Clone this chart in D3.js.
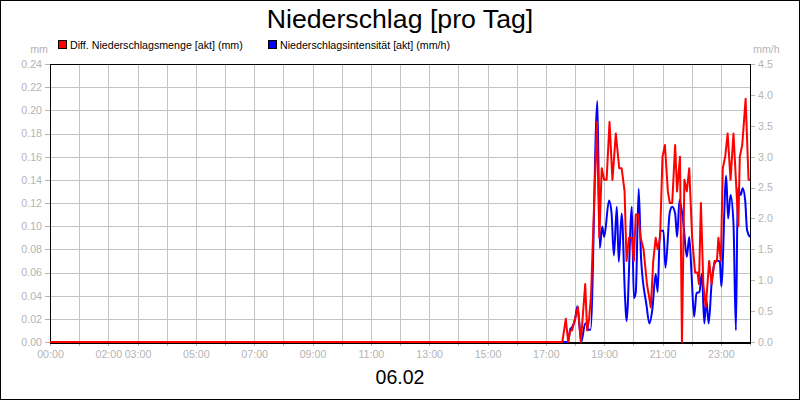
<!DOCTYPE html>
<html><head><meta charset="utf-8">
<script src="https://cdn.jsdelivr.net/npm/d3@7"></script>
<style>
html,body{margin:0;padding:0;background:#fff;}
svg text{font-family:"Liberation Sans",Arial,sans-serif;}
</style></head>
<body>
<svg id="chart" width="800" height="400"></svg>
<script>
const title = "Niederschlag [pro Tag]";
const dateLabel = "06.02";
const seriesNames = ["Diff. Niederschlagsmenge [akt] (mm)", "Niederschlagsintensität [akt] (mm/h)"];
const seriesColors = ["#ff0000", "#0000ff"];
const leftUnit = "mm", rightUnit = "mm/h";
const leftTicks = [0,0.02,0.04,0.06,0.08,0.10,0.12,0.14,0.16,0.18,0.20,0.22,0.24];
const rightTicks = [0,0.5,1,1.5,2,2.5,3,3.5,4,4.5];
const hourTicks = d3.range(0,25);
const hourLabels = ["00:00","02:00","03:00","05:00","07:00","09:00","11:00","13:00","15:00","17:00","19:00","21:00","23:00"];

const redTimes = ["00:00","17:34","17:41","17:46","17:50","17:54","18:00","18:06","18:12","18:21","18:25","18:29","18:33","18:45","18:50","18:55","19:00","19:05","19:11","19:17","19:24","19:31","19:36","19:42","19:46","19:51","19:57","20:01","20:05","20:10","20:15","20:21","20:28","20:36","20:41","20:46","20:50","20:55","21:00","21:05","21:11","21:15","21:20","21:26","21:30","21:36","21:40","21:45","21:50","21:55","22:01","22:07","22:12","22:15","22:19","22:24","22:29","22:36","22:41","22:47","22:52","22:55","23:00","23:04","23:09","23:14","23:20","23:26","23:36","23:39","23:44","23:51","23:57","24:00"];
const redValues = [0,0,0.02,0,0.01,0.01,0.02,0.03,0,0.05,0.01,0.02,0.04,0.19,0.09,0.15,0.14,0.14,0.19,0.14,0.18,0.15,0.15,0.13,0.07,0.09,0.09,0.07,0.11,0.11,0.09,0.08,0.05,0.03,0.07,0.09,0.08,0.09,0.16,0.17,0.13,0.12,0.12,0.17,0.13,0.16,0,0.14,0.13,0.15,0.09,0.06,0.06,0.05,0.12,0.05,0.03,0.07,0.05,0.07,0.07,0.09,0.07,0.15,0.16,0.18,0.14,0.18,0.10,0.16,0.17,0.21,0.14,0.14];

const blueTimes = ["00:00","17:46","17:50","17:54","18:00","18:05","18:13","18:21","18:25","18:27","18:32","18:46","18:51","18:56","19:00","19:10","19:15","19:20","19:26","19:30","19:36","19:43","19:46","19:57","20:01","20:05","20:11","20:16","20:27","20:33","20:39","20:46","20:50","20:55","21:02","21:06","21:15","21:20","21:26","21:30","21:35","21:43","21:50","21:55","22:00","22:05","22:10","22:16","22:21","22:26","22:30","22:35","22:41","22:47","22:53","22:58","23:01","23:11","23:15","23:20","23:26","23:31","23:35","23:41","23:45","23:50","23:54","24:00"];
const blueValues = [0,0,0.2,0.24,0.36,0.58,0,0.3,0.3,0.2,0.2,3.9,1.52,1.87,1.7,2.29,2.1,1.4,2.19,1.3,2.08,0.71,0.34,2.19,0.71,0.8,2.48,1.34,0.6,0.3,0.52,1.1,0.81,1.8,1.8,1.2,2.1,2.19,2.08,1.7,2.3,1.92,1.38,1.7,1.06,0.41,0.79,0.81,1.11,0.3,0.7,0.3,0.95,1.27,1.32,1.3,0.9,2.69,2.0,2.38,1.92,0.19,2.49,2.38,2.49,2.3,1.81,1.7];

const toH = s => { const [h,m] = s.split(":").map(Number); return h + m/60; };
const red = redTimes.map((t,i)=>({h:toH(t), v:redValues[i]}));
const blue = blueTimes.map((t,i)=>({h:toH(t), v:blueValues[i]}));

const svg = d3.select("#chart");
const W = 800, H = 400;
const m = {left:50, right:750, top:64, bottom:342};
const grey = "#b4b4b4", gridC = "#c4c4c4";
const smallFont = "10.67px";

svg.append("rect").attr("x",0.5).attr("y",0.5).attr("width",W-1).attr("height",H-1)
  .attr("fill","#fff").attr("stroke","#000");

const x = d3.scaleLinear().domain([0,24]).range([m.left,m.right]);
const yL = d3.scaleLinear().domain([0,0.24]).range([m.bottom,m.top]);
const yR = d3.scaleLinear().domain([0,4.5]).range([m.bottom,m.top]);

// grid
const grid = svg.append("g").attr("stroke",gridC).attr("stroke-width",1).attr("shape-rendering","crispEdges");
grid.selectAll("line.v").data(hourTicks.slice(1,-1)).join("line")
  .attr("x1",d=>Math.round(x(d))+0.5).attr("x2",d=>Math.round(x(d))+0.5)
  .attr("y1",m.top).attr("y2",m.bottom);
grid.selectAll("line.h").data(leftTicks.slice(1,-1)).join("line")
  .attr("y1",d=>Math.round(yL(d))+0.5).attr("y2",d=>Math.round(yL(d))+0.5)
  .attr("x1",m.left).attr("x2",m.right);

// axes
function styleAxis(g){
  g.select(".domain").remove();
  g.selectAll(".tick line").attr("stroke",grey).attr("shape-rendering","crispEdges");
  g.selectAll(".tick text").attr("fill",grey).attr("font-size",smallFont).attr("font-family","'Liberation Sans',Arial,sans-serif");
}
svg.append("g").attr("transform",`translate(${m.left},0)`)
  .call(d3.axisLeft(yL).tickValues(leftTicks).tickFormat(d3.format(".2f")).tickSize(5).tickPadding(3))
  .call(styleAxis);
svg.append("g").attr("transform",`translate(${m.right},0)`)
  .call(d3.axisRight(yR).tickValues(rightTicks).tickFormat(d3.format(".1f")).tickSize(5).tickPadding(3))
  .call(styleAxis);
svg.append("g").attr("transform",`translate(0,${m.bottom})`)
  .call(d3.axisBottom(x).tickValues(hourTicks).tickFormat("").tickSize(4))
  .call(styleAxis);
svg.append("g").attr("transform",`translate(0,${m.bottom})`)
  .call(d3.axisBottom(x).tickValues(hourLabels.map(toH)).tickFormat((d,i)=>hourLabels[i]).tickSize(0).tickPadding(8))
  .call(styleAxis);

// plot frame
svg.append("rect").attr("x",m.left+0.5).attr("y",m.top+0.5)
  .attr("width",m.right-m.left).attr("height",m.bottom-m.top)
  .attr("fill","none").attr("stroke","#000").attr("shape-rendering","crispEdges");
svg.append("line").attr("x1",m.left).attr("x2",m.right+1).attr("y1",m.bottom+1).attr("y2",m.bottom+1)
  .attr("stroke","#000").attr("stroke-width",2);

// lines
const lineB = d3.line().x(d=>x(d.h)).y(d=>yR(d.v)).curve(d3.curveMonotoneX);
const lineR = d3.line().x(d=>x(d.h)).y(d=>yL(d.v));
svg.append("path").datum(blue).attr("d",lineB).attr("fill","none")
  .attr("stroke",seriesColors[1]).attr("stroke-width",2).attr("stroke-linejoin","round");
svg.append("path").datum(red).attr("d",lineR).attr("fill","none")
  .attr("stroke",seriesColors[0]).attr("stroke-width",2).attr("stroke-linejoin","round");

// units
svg.append("text").attr("x",48).attr("y",52.5).attr("text-anchor","end")
  .attr("font-size",smallFont).attr("fill",grey).text(leftUnit);
svg.append("text").attr("x",753).attr("y",52.5).attr("text-anchor","start")
  .attr("font-size",smallFont).attr("fill",grey).text(rightUnit);

// title
svg.append("text").attr("x",400).attr("y",28).attr("text-anchor","middle")
  .attr("font-size","26.7px").attr("fill","#000").text(title);
svg.append("text").attr("x",400).attr("y",384).attr("text-anchor","middle")
  .attr("font-size","19.5px").attr("fill","#000").text(dateLabel);

// legend
const legX = [58, 268];
seriesNames.forEach((n,i)=>{
  svg.append("rect").attr("x",legX[i]+0.5).attr("y",40.5).attr("width",8).attr("height",8)
    .attr("fill",seriesColors[i]).attr("stroke","#000").attr("stroke-width",1);
  svg.append("text").attr("x",legX[i]+12).attr("y",48.5).attr("font-size",smallFont)
    .attr("fill","#000").text(n);
});
</script>
</body></html>
